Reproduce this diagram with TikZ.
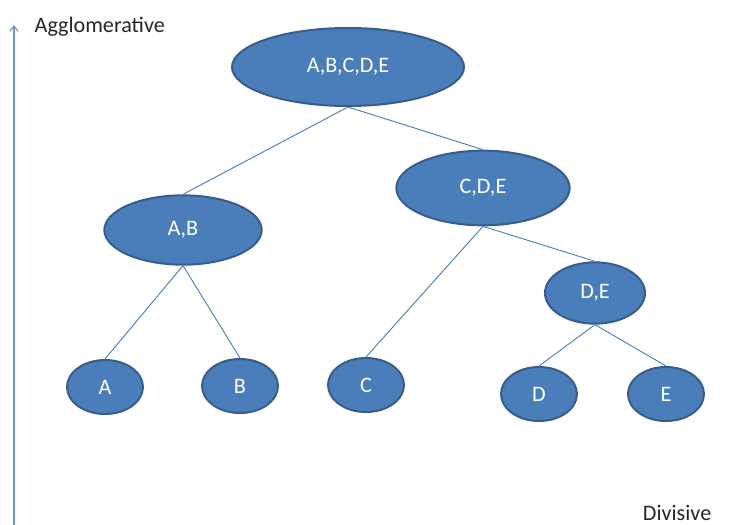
\documentclass[tikz,border=0pt]{standalone}
\usepackage{fontspec}
\setmainfont{Carlito}
\usepackage{tikz}
\usetikzlibrary{arrows.meta,positioning,shapes.geometric}
\usepackage{xcolor}
\definecolor{clfill}{HTML}{4A7EBB}
\definecolor{clborder}{HTML}{385D8A}
\definecolor{clline}{HTML}{4A7EBB}

\begin{document}
\begin{tikzpicture}[
    x=0.75pt, y=-0.75pt,
    cl/.style={ellipse, draw=clborder, line width=1.5pt, fill=clfill, inner sep=0pt, text=white, font=\fontsize{16.6}{19}\selectfont, minimum width=#1},
    link/.style={draw=clline, line width=0.7pt},
    axis/.style={-{Straight Barb[length=4pt,width=6pt]}, draw=clline!80!white, line width=0.9pt}
]
\useasboundingbox (0,0) rectangle (736,525);
\node[cl=174pt, minimum height=58.5pt] (abcde) at (348,67) {A,B,C,D,E};
\node[cl=118pt, minimum height=52pt] (ab) at (183,230) {A,B};
\node[cl=130pt, minimum height=56pt] (cde) at (483,188) {C,D,E};
\node[cl=75pt, minimum height=46pt] (de) at (595,293) {D,E};
\node[cl=57pt, minimum height=40.5pt] (a) at (105,387) {A};
\node[cl=57pt, minimum height=40.5pt] (b) at (240,386) {B};
\node[cl=57pt, minimum height=40.5pt] (c) at (366,385) {C};
\node[cl=57pt, minimum height=40.5pt] (d) at (539,394) {D};
\node[cl=57pt, minimum height=40.5pt] (e) at (666,394) {E};
% tree
\draw[link] (abcde.south) -- (ab.north);
\draw[link] (abcde.south) -- (cde.north);
\draw[link] (ab.south) -- (a.north);
\draw[link] (ab.south) -- (b.north);
\draw[link] (cde.south) -- (c.north);
\draw[link] (cde.south) -- (de.north);
\draw[link] (de.south) -- (d.north);
\draw[link] (de.south) -- (e.north);
% axis
\coordinate (bot) at (14,525);
\coordinate (top) at (14,25);
\draw[axis] (bot) -- (top);
\node[anchor=west, font=\fontsize{16.6}{19}\selectfont, text=black!85] (agg) at (30,27) {Agglomerative};
\node[anchor=east, font=\fontsize{16.6}{19}\selectfont, text=black!85] (div) at (716,513) {Divisive};
\end{tikzpicture}
\end{document}
